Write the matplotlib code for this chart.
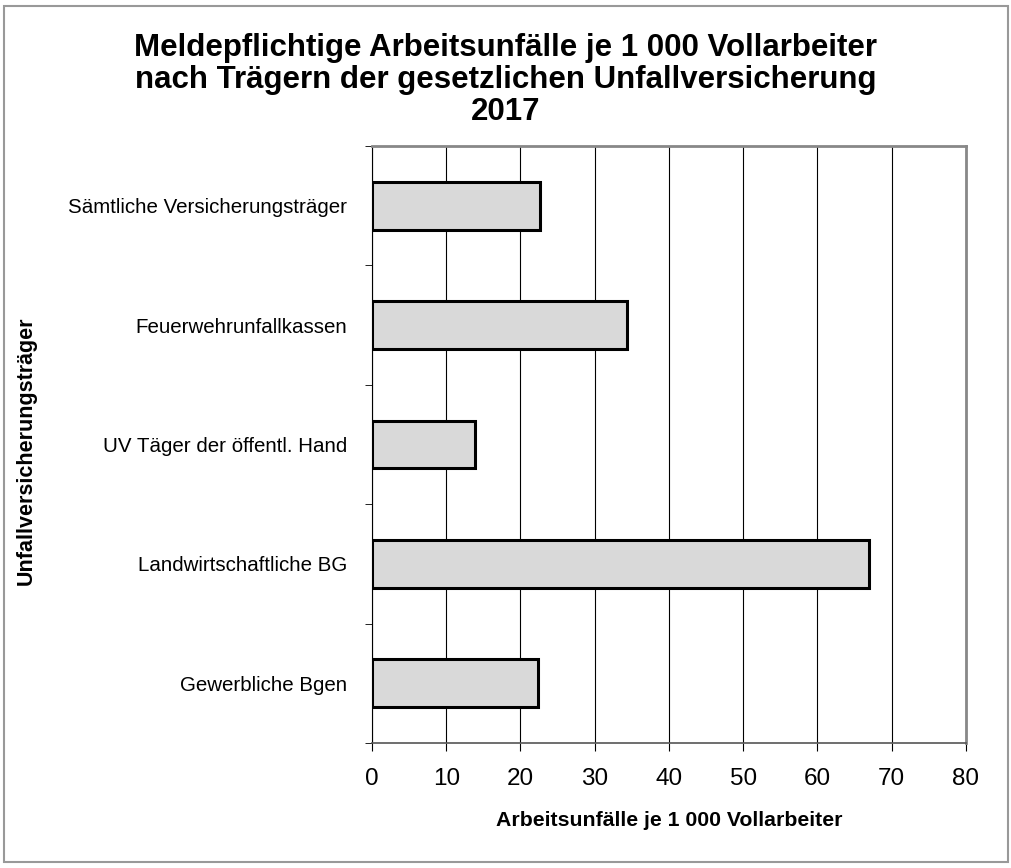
import matplotlib
matplotlib.use("Agg")
import matplotlib.pyplot as plt
from matplotlib.patches import Rectangle
from matplotlib.ticker import MultipleLocator

plt.rcParams['font.family'] = ['Liberation Sans', 'DejaVu Sans']

kategorien = ['Gewerbliche Bgen', 'Landwirtschaftliche BG', 'UV Täger der öffentl. Hand',
              'Feuerwehrunfallkassen', 'Sämtliche Versicherungsträger']
werte = [22.3, 66.9, 13.9, 34.3, 22.6]
x_ticks = [0, 10, 20, 30, 40, 50, 60, 70, 80]

fig = plt.figure(figsize=(10.12, 8.68), dpi=100)
fig.patches.append(Rectangle((0.004, 0.007), 0.992, 0.986, transform=fig.transFigure,
                             fill=False, edgecolor='#999999', linewidth=1.5))

ax = fig.add_axes([0.3676, 0.1441, 0.5869, 0.6877])
pos = list(range(len(kategorien)))
ax.barh(pos, werte, height=0.4, color='#d9d9d9', edgecolor='black', linewidth=2.2, zorder=3)

ax.set_xlim(0, 80)
ax.set_ylim(-0.5, len(kategorien) - 0.5)
ax.set_xticks(x_ticks)
ax.set_xticklabels([str(v) for v in x_ticks], fontsize=17.5)
ax.xaxis.grid(True, color='black', linewidth=0.8, zorder=0)

ax.set_yticks(pos)
ax.set_yticklabels(kategorien, fontsize=14.8)
ax.tick_params(axis='y', length=0, pad=18)
ax.yaxis.set_minor_locator(MultipleLocator(1, offset=0.5))
ax.tick_params(axis='y', which='minor', length=5, direction='out', color='black')
ax.tick_params(axis='x', length=6, direction='out', color='black', pad=12)

for s in ['top', 'right']:
    ax.spines[s].set_color('#888888')
    ax.spines[s].set_linewidth(2)
ax.spines['left'].set_color('black')
ax.spines['bottom'].set_color('#555555')
ax.spines['bottom'].set_linewidth(1.2)

ax.set_xlabel('Arbeitsunfälle je 1 000 Vollarbeiter', fontsize=15.3, fontweight='bold', labelpad=15)
ax.set_ylabel('Unfallversicherungsträger', fontsize=15.5, fontweight='bold')
ax.yaxis.set_label_coords(-0.564, 0.49)

fig.text(0.5, 0.908, 'Meldepflichtige Arbeitsunfälle je 1 000 Vollarbeiter\n'
         'nach Trägern der gesetzlichen Unfallversicherung\n2017',
         ha='center', va='center', fontsize=22.5, fontweight='bold', linespacing=1.1)

fig.savefig('out.png', dpi=100)
